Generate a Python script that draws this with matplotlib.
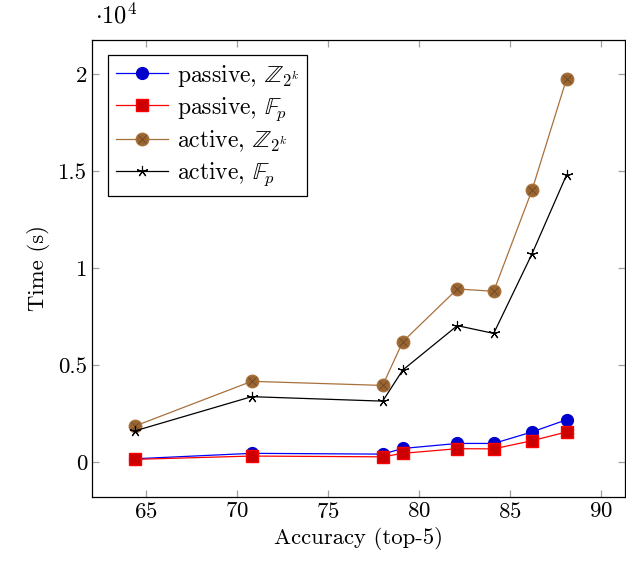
import numpy as np
import matplotlib.pyplot as plt
from matplotlib.legend_handler import HandlerTuple
from matplotlib.ticker import FuncFormatter

plt.rcParams['font.family'] = 'serif'
plt.rcParams['font.serif'] = ['cmr10']
plt.rcParams['mathtext.fontset'] = 'cm'
plt.rcParams['axes.formatter.use_mathtext'] = True
plt.rcParams['font.size'] = 16.4

# accuracy (top-5) for each run
accuracy = [64.4, 70.8, 78.0, 79.1, 82.1, 84.1, 86.2, 88.1]
# time in seconds
passive_z2k = [170, 450, 410, 700, 960, 960, 1550, 2180]
passive_fp = [140, 310, 270, 450, 690, 680, 1100, 1550]
active_z2k = [1860, 4160, 3950, 6200, 8920, 8800, 14000, 19740]
active_fp = [1610, 3370, 3140, 4740, 7030, 6630, 10720, 14790]
labels = [r"passive, $\mathbb{Z}_{2^k}$", r"passive, $\mathbb{F}_p$",
          r"active, $\mathbb{Z}_{2^k}$", r"active, $\mathbb{F}_p$"]

scale = 1e4

fig = plt.figure(figsize=(6.26, 5.68), dpi=100)
ax = fig.add_axes([0.147, 0.125, 0.851, 0.8046])

x = np.array(accuracy)
h1, = ax.plot(x, np.array(passive_z2k) / scale, color="blue", lw=0.9,
              marker="o", ms=8.5, mfc="#0000CC", mec="#0000CC")
h2, = ax.plot(x, np.array(passive_fp) / scale, color="red", lw=0.9,
              marker="s", ms=8, mfc="#CC0000", mec="red")
h3, = ax.plot(x, np.array(active_z2k) / scale, color="#A8713C", lw=0.9,
              marker="o", ms=9, mfc="#996633", mec="#A8713C")
h3x, = ax.plot(x, np.array(active_z2k) / scale, ls="none", marker="x",
               ms=5.5, mec="#6e4622", mew=0.6)
h4, = ax.plot(x, np.array(active_fp) / scale, color="black", lw=0.9,
              marker=(5, 2, 0), ms=8, mec="black", mew=0.8)

ax.set_xlim(62.03, 91.3)
ax.set_ylim(-0.18, 2.175)
ax.set_xticks([65, 70, 75, 80, 85, 90])
ax.set_yticks([0, 0.5, 1, 1.5, 2])
ax.yaxis.set_major_formatter(FuncFormatter(lambda v, p: "%g" % v))
ax.tick_params(direction="in", length=5, color="#a0a0a0", top=True, right=True,
               width=0.9)
for s in ax.spines.values():
    s.set_linewidth(0.9)

ax.set_xlabel("Accuracy (top-5)", labelpad=4)
ax.set_ylabel("Time (s)", labelpad=6)
ax.text(0.005, 1.025, r"$\cdot 10^4$", transform=ax.transAxes, ha="left",
        va="bottom", fontsize=17.5)

leg = ax.legend([h1, h2, (h3, h3x), h4], labels,
                handler_map={tuple: HandlerTuple(ndivide=1)},
                prop={"size": 17},
                loc="upper left", bbox_to_anchor=(0.03, 0.967),
                borderaxespad=0, fancybox=False, framealpha=1,
                edgecolor="black", handlelength=2.2, handletextpad=0.4,
                labelspacing=0.27, borderpad=0.32)
leg.get_frame().set_linewidth(0.9)

fig.savefig("out.png", dpi=100)
